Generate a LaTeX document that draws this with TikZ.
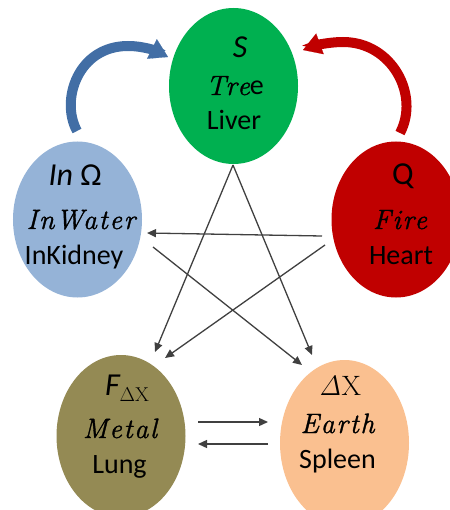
\documentclass[tikz,border=0pt]{standalone}
\usepackage{fontspec}
\newfontfamily\carl{Carlito}
\newfontfamily\lmr{Latin Modern Roman}
\newfontfamily\lmi{Latin Modern Roman}[LetterSpace=6,FakeBold=1.2]
\usetikzlibrary{shapes.geometric,arrows.meta,calc}
\definecolor{cS}{HTML}{00B050}
\definecolor{cIn}{HTML}{95B3D7}
\definecolor{cQ}{HTML}{C00000}
\definecolor{cF}{HTML}{948A54}
\definecolor{cE}{HTML}{FAC090}
\definecolor{linegray}{HTML}{404040}
\definecolor{blueArrow}{RGB}{66,110,165}
\definecolor{redArrow}{HTML}{C00000}
\newcommand{\mi}[1]{{\lmi\itshape #1}}
\tikzset{
  blob/.style={ellipse, inner sep=0pt, minimum width=129bp, minimum height=156bp},
  lbl/.style={inner sep=0pt, anchor=base, font=\fontsize{28bp}{30bp}\selectfont\carl},
  sym/.style={inner sep=0pt, anchor=base, font=\fontsize{32bp}{34bp}\selectfont\carl},
  conn/.style={draw=linegray, line width=1.3bp, -{Triangle[length=9bp,width=8bp]}},
  bigarrow/.style={line width=10bp, -{Triangle[length=18bp 0 0,width=22bp 0 0,line width=0.1bp]}}
}
\begin{document}
\begin{tikzpicture}[x=1bp,y=-1bp]
\useasboundingbox (0,0) rectangle (450,510);
\clip (0,0) rectangle (450,510);
% ellipses
\node[blob, fill=cS] (S) at (233.5,86) {};
\node[blob, fill=cIn] (In) at (77.5,219.5) {};
\node[blob, fill=cQ] (Q) at (396,219.5) {};
\node[blob, fill=cF, minimum height=162bp] (F) at (121,436) {};
\node[blob, fill=cE, minimum height=166bp] (E) at (344.5,443) {};
% labels
\node[sym] (tS1) at (240,58) {\itshape S};
\node[lbl] (tS2) at (235,95) {\mi{Tre}e};
\node[lbl] (tS3) at (234,130) {Liver};
\node[sym] (tI1) at (75,186) {{\itshape In} Ω};
\node[lbl] (tI2) at (81,229) {\mi{InWater}};
\node[lbl] (tI3) at (74,264) {InKidney};
\node[sym] (tQ1) at (403,185) {Q};
\node[lbl] (tQ2) at (400,229) {\mi{Fire}};
\node[lbl] (tQ3) at (401,264) {Heart};
\node[sym] (tF1) at (127,395) {{\itshape F}{\fontsize{20bp}{20bp}\selectfont\lmr\raisebox{-6bp}{ΔX}}};
\node[lbl] (tF2) at (120,438) {\mi{Metal}};
\node[lbl] (tF3) at (119.5,473) {Lung};
\node[lbl] (tE1) at (340,395) {{\lmr\itshape Δ}{\lmr X}};
\node[lbl] (tE2) at (337.5,433) {\mi{Earth}};
\node[lbl] (tE3) at (337.5,468) {Spleen};
% star connectors
\draw[conn] ($(S.center)+(-0.5,79)$) -- ($(F.center)+(34,-84)$);
\draw[conn] ($(S.center)+(-0.5,79)$) -- ($(E.center)+(-32.5,-88)$);
\draw[conn] ($(Q.center)+(-74,16.5)$) -- ($(In.center)+(69.5,13.5)$);
\draw[conn] ($(In.center)+(75.5,27.5)$) -- ($(E.center)+(-42.5,-78)$);
\draw[conn] ($(Q.center)+(-71,25.5)$) -- ($(F.center)+(44,-78)$);
\draw[conn] ($(F.center)+(77,-14)$) -- ($(E.center)+(-76.5,-21)$);
\draw[conn] ($(E.center)+(-76.5,1)$) -- ($(F.center)+(77,8)$);
% curved arrows
\draw[bigarrow, blueArrow] ($(In.center)+(-0.5,-88.5)$) .. controls (60,100) and (78,46) .. (128,46)
  .. controls (145,46) and (158,52) .. ($(S.center)+(-65.5,-29)$);
\draw[bigarrow, redArrow] ($(Q.center)+(4,-86.5)$) .. controls (420,95) and (392,42) .. (343,42)
  .. controls (328,42) and (314,46) .. ($(S.center)+(69.5,-36)$);
\end{tikzpicture}
\end{document}
